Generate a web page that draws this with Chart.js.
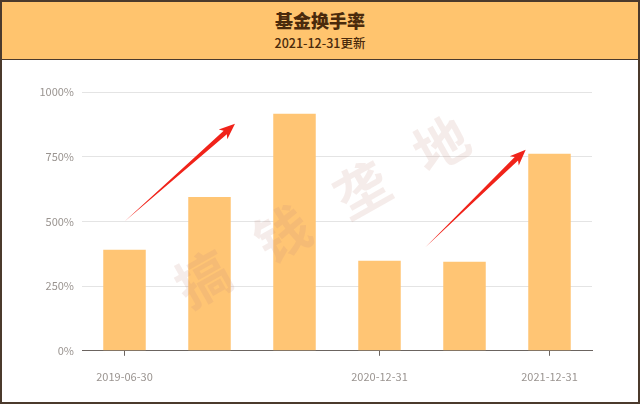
<!DOCTYPE html>
<html>
<head>
<meta charset="utf-8">
<script src="https://cdn.jsdelivr.net/npm/chart.js@4/dist/chart.umd.min.js"></script>
<style>
  html, body { margin: 0; padding: 0; background: #fff; }
  #frame {
    position: relative; width: 640px; height: 404px; box-sizing: border-box;
    border: 2px solid #4b3a2c; overflow: hidden;
    font-family: "Noto Sans CJK SC", "Noto Sans", sans-serif;
  }
  #head {
    height: 57px; background: #ffc46e; border-bottom: 1px solid #4b3a2c;
    text-align: center; color: #4a2a0c;
  }
  #title { font-size: 18px; font-weight: 900; padding-top: 6px; line-height: 24px; }
  #sub { font-size: 12.5px; font-weight: 500; line-height: 18px; margin-top: 2px; }
  #wrap { position: absolute; left: 0; top: 58px; width: 636px; height: 342px; }
</style>
</head>
<body>
<div id="frame">
  <div id="head">
    <div id="title">基金换手率</div>
    <div id="sub">2021-12-31更新</div>
  </div>
  <div id="wrap"><canvas id="myChart"></canvas></div>
</div>
<script>
const categories = ['2019-06-30', '2019-12-31', '2020-06-30', '2020-12-31', '2021-06-30', '2021-12-31'];
const turnover = [390, 594, 916, 348, 344, 761];
const shownLabels = ['2019-06-30', '2020-12-31', '2021-12-31'];
const yTicks = [0, 250, 500, 750, 1000];
// arrows in data units: [fromIndex, fromValue, toIndex, toValue]
const arrows = [[0, 500, 1.3, 877], [3.54, 400, 4.72, 777]];
const watermark = ['搞', '钱', '垄', '地'];

const decorPlugin = {
    id: 'decor',
    afterDatasetsDraw(chart) {
        const ctx = chart.ctx;
        const xs = chart.scales.x, ys = chart.scales.y;
        const area = chart.chartArea;
        const step = xs.getPixelForValue(1) - xs.getPixelForValue(0);
        const px = (i) => xs.getPixelForValue(0) + i * step;

        // watermark
        ctx.save();
        const cx = (area.left + area.right) / 2 - 15;
        const cy = (area.top + area.bottom) / 2 - 10;
        const ang = -29.5 * Math.PI / 180;
        ctx.font = 'bold 54px "Noto Sans CJK SC", sans-serif';
        ctx.fillStyle = 'rgba(190, 135, 125, 0.16)';
        ctx.textAlign = 'center';
        ctx.textBaseline = 'middle';
        watermark.forEach((ch, k) => {
            const d = (k - 1.5) * 91;
            ctx.save();
            ctx.translate(cx + d * Math.cos(ang), cy + d * Math.sin(ang));
            ctx.rotate(ang);
            ctx.fillText(ch, 0, 0);
            ctx.restore();
        });
        ctx.restore();

        // arrows
        ctx.save();
        ctx.fillStyle = '#f0231a';
        arrows.forEach(a => {
            const tx = px(a[0]), ty = ys.getPixelForValue(a[1]);
            const hx = px(a[2]), hy = ys.getPixelForValue(a[3]);
            const len = Math.hypot(hx - tx, hy - ty);
            const ux = (hx - tx) / len, uy = (hy - ty) / len;
            const nx = -uy, ny = ux;
            const sx = hx - ux * 13, sy = hy - uy * 13;
            ctx.beginPath();
            ctx.moveTo(tx, ty);
            ctx.lineTo(sx + nx * 2.4, sy + ny * 2.4);
            ctx.lineTo(sx + nx * 6.5 - ux * 3, sy + ny * 6.5 - uy * 3);
            ctx.lineTo(hx, hy);
            ctx.lineTo(sx - nx * 6.5 - ux * 3, sy - ny * 6.5 - uy * 3);
            ctx.lineTo(sx - nx * 2.4, sy - ny * 2.4);
            ctx.closePath();
            ctx.fill();
        });
        ctx.restore();
    }
};

const ctx = document.getElementById('myChart').getContext('2d');
new Chart(ctx, {
    type: 'bar',
    data: {
        labels: categories,
        datasets: [{
            data: turnover,
            backgroundColor: '#ffc574',
            barPercentage: 0.5,
            categoryPercentage: 1.0
        }]
    },
    options: {
        responsive: true,
        maintainAspectRatio: false,
        animation: false,
        layout: { padding: { left: 0, right: 46, top: 32, bottom: 5 } },
        plugins: { legend: { display: false }, tooltip: { enabled: false } },
        scales: {
            x: {
                border: { color: '#6b6460', width: 1 },
                grid: {
                    offset: false,
                    drawOnChartArea: false,
                    tickLength: 5,
                    color: (c) => shownLabels.includes(categories[c.index]) ? '#6b6460' : 'rgba(0,0,0,0)'
                },
                ticks: {
                    autoSkip: false,
                    maxRotation: 0,
                    padding: 14,
                    color: '#9a9490',
                    font: { size: 11, family: '"Noto Sans CJK SC", "Noto Sans", sans-serif' },
                    callback: function (v, i) {
                        return shownLabels.includes(categories[i]) ? categories[i] : '';
                    }
                }
            },
            y: {
                min: 0,
                max: 1000,
                afterFit: (s) => { s.width = 80; },
                afterBuildTicks: (s) => { s.ticks = yTicks.map(v => ({ value: v })); },
                border: { display: false },
                grid: { color: '#e4e4e4', drawTicks: false },
                ticks: {
                    padding: 8,
                    color: '#9a9490',
                    font: { size: 11, family: '"Noto Sans CJK SC", "Noto Sans", sans-serif' },
                    callback: (v) => v + '%'
                }
            }
        }
    },
    plugins: [decorPlugin]
});
</script>
</body>
</html>
